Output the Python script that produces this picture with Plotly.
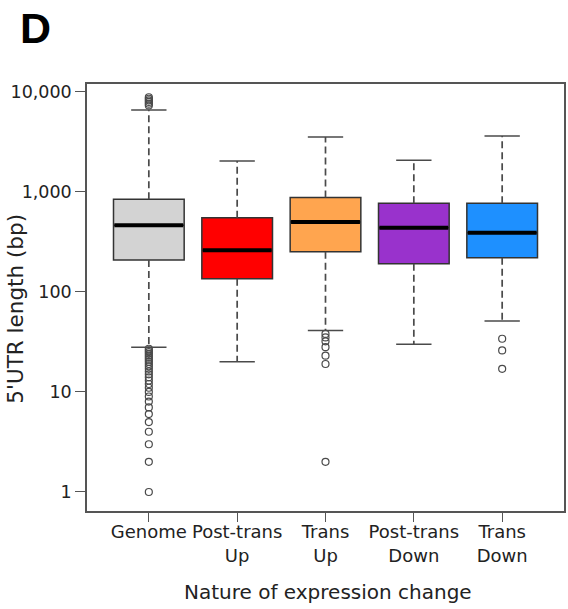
import plotly.graph_objects as go

categories = ["Genome", "Post-trans<br>Up", "Trans<br>Up", "Post-trans<br>Down", "Trans<br>Down"]
colors = ["#D3D3D3", "#FF0000", "#FFA54F", "#9932CC", "#1E90FF"]
q1 = [208, 135, 252, 191, 219]
median = [462, 260, 498, 437, 389]
q3 = [840, 550, 879, 766, 766]
lower_whisker = [28, 20, 41, 30, 51]
upper_whisker = [6550, 2030, 3520, 2060, 3600]
outliers = [
    [8800, 8500, 8200, 7900, 7600, 7300] + list(range(1, 28)),
    [],
    [38, 35, 32, 28, 23, 19, 2],
    [],
    [34, 26, 17],
]
ytick_vals = [1, 10, 100, 1000, 10000]
ytick_text = ["1", "10", "100", "1,000", "10,000"]

FONT = "DejaVu Sans, Verdana, sans-serif"
BOXW = 0.8
CAPW = 0.4
LINEC = "#4a4a4a"

fig = go.Figure()
for i, cat in enumerate(categories):
    fig.add_trace(go.Box(
        x=[i], q1=[q1[i]], median=[median[i]], q3=[q3[i]],
        lowerfence=[q1[i]], upperfence=[q3[i]],
        width=BOXW, fillcolor=colors[i],
        line=dict(color="#333333", width=1.5),
        whiskerwidth=0, boxpoints=False, showlegend=False, hoverinfo="skip",
    ))
for i, cat in enumerate(categories):
    # dashed whiskers
    fig.add_trace(go.Scatter(
        x=[i, i, None, i, i], y=[q3[i], upper_whisker[i], None, q1[i], lower_whisker[i]],
        mode="lines", line=dict(color=LINEC, width=1.7, dash="7px,4px"),
        showlegend=False, hoverinfo="skip"))
    # caps
    fig.add_trace(go.Scatter(
        x=[i - CAPW / 2, i + CAPW / 2, None, i - CAPW / 2, i + CAPW / 2],
        y=[upper_whisker[i], upper_whisker[i], None, lower_whisker[i], lower_whisker[i]],
        mode="lines", line=dict(color=LINEC, width=1.5),
        showlegend=False, hoverinfo="skip"))
    # median
    fig.add_trace(go.Scatter(
        x=[i - BOXW / 2 + 0.01, i + BOXW / 2 - 0.01], y=[median[i], median[i]],
        mode="lines", line=dict(color="black", width=4),
        showlegend=False, hoverinfo="skip"))
    if outliers[i]:
        fig.add_trace(go.Scatter(
            x=[i] * len(outliers[i]), y=outliers[i], mode="markers",
            marker=dict(symbol="circle-open", size=7, color=LINEC, line=dict(width=1.2)),
            showlegend=False, hoverinfo="skip"))

fig.update_layout(
    width=568, height=609,
    margin=dict(l=87, r=2, t=84, b=98),
    paper_bgcolor="white", plot_bgcolor="white",
    font=dict(family=FONT, size=18, color="#222222"),
    showlegend=False,
    xaxis=dict(
        range=[-0.7, 4.7], tickmode="array", tickvals=list(range(len(categories))),
        ticktext=categories, ticks="outside", ticklen=9, tickwidth=1.3, tickcolor="#555555",
        showline=True, linecolor="#555555", linewidth=1.5, mirror=True,
        showgrid=False, zeroline=False, tickfont=dict(size=18), ticklabelstandoff=-5,
    ),
    yaxis=dict(
        type="log", range=[-0.19, 4.077], tickmode="array", tickvals=ytick_vals,
        ticktext=ytick_text, ticks="outside", ticklen=10, tickwidth=1.3, tickcolor="#555555",
        showline=True, linecolor="#555555", linewidth=1.5, mirror=True,
        showgrid=False, zeroline=False, tickfont=dict(size=17.5),
    ),
    annotations=[
        dict(text="5'UTR length (bp)", xref="paper", yref="paper", x=-0.150, y=0.475,
             textangle=-90, showarrow=False, xanchor="center", yanchor="middle",
             font=dict(size=21.5)),
        dict(text="Nature of expression change", xref="paper", yref="paper", x=0.506, y=-0.19,
             showarrow=False, xanchor="center", yanchor="middle", font=dict(size=20)),
        dict(text="<b>D</b>", xref="paper", yref="paper", x=-0.1075, y=1.13,
             showarrow=False, xanchor="center", yanchor="middle",
             font=dict(family="Liberation Sans, Arial, sans-serif", size=43, color="black")),
    ],
)

fig.write_html("out.html")
